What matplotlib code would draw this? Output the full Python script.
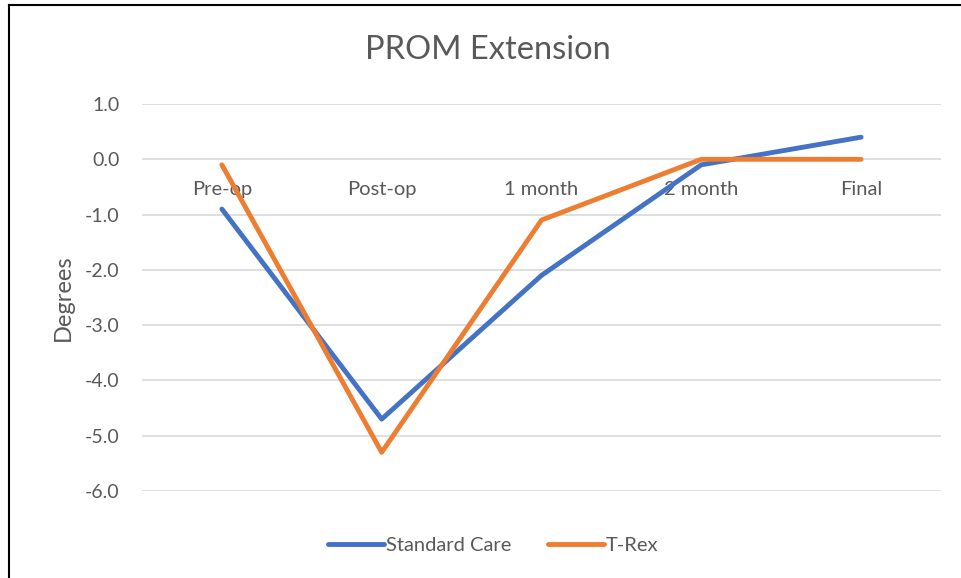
import matplotlib.pyplot as plt
from matplotlib.lines import Line2D

categories = ["Pre-op", "Post-op", "1 month", "2 month", "Final"]
standard_care = [-0.9, -4.7, -2.1, -0.1, 0.4]
t_rex = [-0.1, -5.3, -1.1, 0.0, 0.0]
y_ticks = [1.0, 0.0, -1.0, -2.0, -3.0, -4.0, -5.0, -6.0]

TEXT = "#595959"
plt.rcParams["font.family"] = ["Lato", "DejaVu Sans"]

fig = plt.figure(figsize=(9.61, 5.78), dpi=100)
ax = fig.add_axes([142 / 961, 1 - 491 / 578, (941 - 142) / 961, (491 - 104) / 578])

x = list(range(len(categories)))
ax.plot(x, standard_care, color="#4472C4", lw=3.5, solid_capstyle="round",
        solid_joinstyle="round", label="Standard Care", zorder=3)
ax.plot(x, t_rex, color="#ED7D31", lw=3.5, solid_capstyle="round",
        solid_joinstyle="round", label="T-Rex", zorder=4)

ax.set_xlim(-0.5, len(categories) - 0.5)
ax.set_ylim(-6, 1)
ax.set_yticks(y_ticks)
ax.set_yticklabels([f"{v:.1f}" for v in y_ticks], color=TEXT, fontsize=14)
ax.tick_params(axis="y", length=0, pad=16)
ax.set_xticks([])
ax.grid(axis="y", color="#D9D9D9", lw=1.2, zorder=0)
for s in ax.spines.values():
    s.set_visible(False)

# category labels sit just under the zero line
for i, c in enumerate(categories):
    ax.annotate(c, (i, 0), xytext=(0, -22), textcoords="offset pixels",
                ha="center", va="top", color=TEXT, fontsize=14.5, zorder=2)

ax.set_ylabel("Degrees", color=TEXT, fontsize=17, labelpad=8)
fig.text(488 / 961, 1 - 50 / 578, "PROM Extension", ha="center", va="center",
         color=TEXT, fontsize=23.5)

handles = [Line2D([], [], color="#4472C4", lw=3.5, solid_capstyle="round"),
           Line2D([], [], color="#ED7D31", lw=3.5, solid_capstyle="round")]
fig.legend(handles, ["Standard Care", "T-Rex"], loc="center",
           bbox_to_anchor=(493 / 961, 1 - 545 / 578), ncol=2, frameon=False,
           fontsize=14.5, labelcolor=TEXT, handlelength=2.8, handletextpad=0.1,
           columnspacing=1.8)

# chart border (top and left edges visible in the crop)
fig.add_artist(Line2D([9 / 961, 9 / 961], [0, 1 - 5 / 578], color="black",
                      lw=1.5, transform=fig.transFigure))
fig.add_artist(Line2D([9 / 961, 1], [1 - 5 / 578, 1 - 5 / 578], color="black",
                      lw=1.5, transform=fig.transFigure))

fig.savefig("out.png", dpi=100, facecolor="white")
